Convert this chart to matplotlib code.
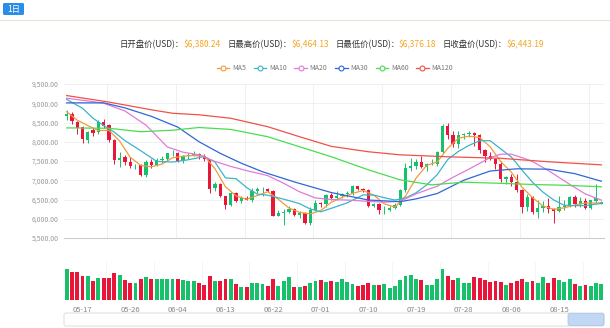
import numpy as np
import pandas as pd
import matplotlib
matplotlib.use("Agg")
import matplotlib.pyplot as plt
from matplotlib.lines import Line2D
from matplotlib.patches import FancyBboxPatch
from matplotlib.ticker import FuncFormatter

plt.rcParams['font.family'] = ['Noto Sans CJK SC', 'DejaVu Sans']

# ---- data ----
dates = pd.date_range("2018-05-14", "2018-08-23").strftime("%m-%d").tolist()

opens = [8680, 8720, 8510, 8380, 8050, 8300, 8250, 8520, 8430, 8050,
         7530, 7600, 7480, 7360, 7400, 7130, 7480, 7400, 7530, 7560,
         7700, 7720, 7510, 7640, 7660, 7680, 7620, 7540, 6790, 6900,
         6580, 6350, 6680, 6460, 6540, 6500, 6730, 6770, 6780, 6730,
         6080, 6160, 6170, 6250, 6090, 6160, 5900, 6220, 6400, 6380,
         6620, 6530, 6600, 6640, 6670, 6850, 6770, 6740, 6330, 6390,
         6230, 6240, 6280, 6360, 6740, 7320, 7380, 7470, 7350, 7410,
         7420, 7730, 8420, 8180, 7950, 8180, 8200, 8220, 8170, 7780,
         7620, 7560, 7430, 7030, 7080, 6950, 6750, 6300, 6560, 6180,
         6290, 6320, 6260, 6190, 6300, 6340, 6570, 6390, 6470, 6270,
         6470, 6380.24]
closes = [8720, 8530, 8370, 8080, 8260, 8230, 8520, 8420, 8050, 7530,
          7580, 7470, 7360, 7380, 7130, 7480, 7400, 7530, 7560, 7700,
          7720, 7510, 7640, 7660, 7680, 7620, 7540, 6780, 6900, 6580,
          6350, 6680, 6460, 6540, 6500, 6730, 6770, 6780, 6730, 6080,
          6160, 6170, 6250, 6090, 6160, 5900, 6220, 6400, 6380, 6620,
          6530, 6600, 6640, 6670, 6850, 6770, 6740, 6330, 6390, 6230,
          6240, 6280, 6360, 6740, 7320, 7380, 7470, 7350, 7410, 7420,
          7730, 8420, 8180, 7950, 8180, 8200, 8220, 8170, 7780, 7620,
          7560, 7430, 7030, 7080, 6950, 6750, 6300, 6560, 6180, 6290,
          6320, 6260, 6190, 6300, 6340, 6570, 6390, 6470, 6270, 6480,
          6530, 6443.19]
highs = [8820, 8760, 8530, 8400, 8290, 8350, 8560, 8580, 8450, 8060,
         7740, 7650, 7600, 7420, 7420, 7530, 7560, 7580, 7620, 7720,
         7780, 7740, 7660, 7700, 7760, 7700, 7680, 7540, 6960, 6920,
         6600, 6700, 6690, 6590, 6580, 6800, 6820, 6820, 6800, 6740,
         6240, 6250, 6330, 6280, 6190, 6170, 6300, 6480, 6430, 6650,
         6680, 6730, 6680, 6720, 6880, 6860, 6800, 6760, 6410, 6400,
         6340, 6320, 6400, 6760, 7450, 7570, 7540, 7620, 7440, 7560,
         7760, 8460, 8490, 8290, 8270, 8230, 8290, 8260, 8190, 7800,
         7730, 7570, 7500, 7110, 7160, 7150, 6760, 6640, 6580, 6480,
         6470, 6540, 6270, 6600, 6480, 6600, 6610, 6560, 6530, 6500,
         6890, 6464.13]
lows = [8560, 8450, 8200, 7980, 7960, 8150, 8200, 8350, 8000, 7430,
        7350, 7400, 7330, 7280, 7100, 7080, 7330, 7360, 7450, 7500,
        7640, 7480, 7460, 7550, 7640, 7560, 7510, 6660, 6720, 6560,
        6260, 6330, 6440, 6420, 6480, 6440, 6680, 6600, 6700, 6060,
        6070, 5830, 6150, 6070, 6030, 5860, 5830, 6210, 6300, 6300,
        6500, 6480, 6550, 6560, 6620, 6740, 6690, 6300, 6300, 6120,
        6130, 6200, 6260, 6340, 6700, 7250, 7290, 7320, 7230, 7390,
        7380, 7700, 8080, 7860, 7830, 8080, 8120, 7880, 7700, 7480,
        7520, 7300, 6960, 6890, 6860, 6700, 6140, 6200, 6130, 6030,
        6170, 6160, 5880, 6180, 6230, 6300, 6310, 6300, 6260, 6250,
        6400, 6376.18]
volumes = [31, 28, 28, 24, 24, 19, 22, 22, 22, 27,
           25, 20, 17, 17, 21, 23, 21, 21, 21, 21,
           21, 21, 20, 19, 19, 17, 15, 24, 19, 19,
           21, 21, 16, 13, 13, 17, 17, 16, 14, 21,
           14, 19, 23, 13, 13, 14, 17, 19, 20, 18,
           19, 18, 21, 18, 16, 14, 15, 17, 15, 15,
           16, 12, 14, 20, 24, 25, 21, 20, 15, 15,
           21, 31, 24, 20, 22, 17, 17, 23, 22, 20,
           18, 19, 18, 15, 17, 19, 21, 18, 19, 17,
           23, 17, 22, 20, 18, 21, 16, 14, 15, 14,
           17, 16]

ma5_idx = [0, 2, 4, 6, 8, 10, 12, 14, 16, 18, 20, 22, 24, 26, 28, 30, 32, 34,
           36, 38, 40, 42, 44, 46, 48, 50, 52, 54, 56, 58, 60, 62, 64, 66, 68,
           70, 72, 74, 76, 78, 80, 82, 84, 86, 88, 90, 92, 94, 96, 98, 100, 101]
ma5_val = [8780, 8560, 8420, 8292, 8296, 8020, 7598, 7384, 7350, 7420, 7582,
           7626, 7642, 7628, 7304, 6830, 6594, 6506, 6600, 6702, 6504, 6278,
           6166, 6124, 6212, 6430, 6554, 6658, 6734, 6616, 6386, 6300, 6588,
           7054, 7386, 7476, 7832, 8092, 8146, 8110, 7870, 7484, 7210, 6822,
           6548, 6330, 6248, 6282, 6358, 6408, 6410, 6410]
ma10_idx = [0, 3, 5, 7, 9, 11, 14, 17, 20, 23, 26, 28, 30, 32, 34, 36, 38, 40,
            42, 44, 46, 48, 50, 53, 56, 58, 60, 62, 64, 66, 68, 70, 72, 74, 76,
            78, 80, 82, 84, 86, 88, 90, 92, 94, 96, 98, 100, 101]
ma10_val = [9100, 8870, 8610, 8420, 8250, 8030, 7767, 7491, 7473, 7533, 7616,
            7475, 7060, 7040, 6810, 6640, 6612, 6543, 6471, 6392, 6254, 6181,
            6272, 6412, 6620, 6614, 6546, 6486, 6540, 6674, 6878, 7146, 7542,
            7749, 7906, 8025, 8028, 7814, 7604, 7267, 6946, 6689, 6488, 6349,
            6340, 6340, 6380, 6398]
ma20_idx = [0, 4, 7, 11, 15, 17, 19, 22, 25, 28, 31, 34, 38, 41, 44, 47, 50,
            54, 57, 60, 63, 66, 70, 73, 76, 80, 82, 84, 86, 88, 91, 95, 98, 101]
ma20_val = [9130, 9060, 9000, 8800, 8430, 8150, 7865, 7728, 7660, 7490, 7360,
            7250, 7120, 6920, 6700, 6540, 6500, 6480, 6450, 6430, 6453, 6647,
            6846, 7078, 7290, 7587, 7678, 7677, 7587, 7486, 7251, 6895, 6643,
            6485]
ma30_idx = [0, 7, 11, 16, 21, 25, 29, 33, 37, 43, 50, 57, 63, 66, 70, 75, 80,
            85, 91, 96, 101]
ma30_val = [9010, 9010, 8880, 8660, 8380, 8000, 7700, 7442, 7220, 6957, 6680,
            6486, 6444, 6516, 6655, 7000, 7240, 7297, 7287, 7171, 6975]
ma60_idx = [0, 8, 14, 20, 25, 31, 38, 44, 50, 57, 63, 69, 75, 82, 88, 94, 101]
ma60_val = [8360, 8350, 8260, 8300, 8370, 8320, 8130, 7870, 7610, 7270, 7010,
            6880, 6950, 6920, 6890, 6870, 6830]
ma120_idx = [0, 8, 16, 20, 25, 31, 38, 44, 50, 57, 63, 72, 82, 91, 101]
ma120_val = [9200, 9030, 8830, 8740, 8700, 8610, 8390, 8130, 7880, 7740, 7660,
             7610, 7570, 7480, 7400]

ma_names = ["MA5", "MA10", "MA20", "MA30", "MA60", "MA120"]
ma_colors = ["#f39a3b", "#3db3c9", "#e27ad9", "#2f67d8", "#4cdc52", "#ef5248"]
ma_data = [(ma5_idx, ma5_val), (ma10_idx, ma10_val), (ma20_idx, ma20_val),
           (ma30_idx, ma30_val), (ma60_idx, ma60_val), (ma120_idx, ma120_val)]

header_labels = ["日开盘价(USD)：", "日最高价(USD)：", "日最低价(USD)：", "日收盘价(USD)："]
header_values = ["$6,380.24", "$6,464.13", "$6,376.18", "$6,443.19"]

UP = "#17c06b"
DOWN = "#e8173a"

W, H = 610, 328
fig = plt.figure(figsize=(W / 100, H / 100), dpi=100)
fig.patch.set_facecolor("white")


def box(x0, y0, x1, y1):
    return [x0 / W, 1 - y1 / H, (x1 - x0) / W, (y1 - y0) / H]


# overlay in pixel coords for header, button, slider
ov = fig.add_axes([0, 0, 1, 1])
ov.set_xlim(0, W)
ov.set_ylim(H, 0)
ov.axis("off")

ov.add_patch(FancyBboxPatch((3, 3), 21, 12, boxstyle="round,pad=0,rounding_size=1.5",
                            fc="#2a8ee8", ec="none"))
ov.text(13.5, 9.2, "1日", color="white", fontsize=6, ha="center", va="center")
ov.plot([0, W], [19.5, 19.5], color="#e8e4da", lw=0.8)

lab_x = [120, 228, 336, 443]
val_x = [183, 291, 398, 506]
for lx, vx, lab, val in zip(lab_x, val_x, header_labels, header_values):
    ov.text(lx, 45, lab, color="#333333", fontsize=6, va="center")
    ov.text(vx, 45, val, color="#f5a623", fontsize=6, va="center")

# slider
ov.add_patch(FancyBboxPatch((64, 313), 540, 13, boxstyle="round,pad=0,rounding_size=2",
                            fc="none", ec="#dddddd", lw=0.7))
ov.add_patch(FancyBboxPatch((568, 313.5), 36, 12, boxstyle="round,pad=0,rounding_size=2",
                            fc="#bcd3f2", ec="#a8c4ec", lw=0.6, alpha=0.9))

# ---- main candle panel ----
ax = fig.add_axes(box(64, 84, 604, 238))
x = np.arange(len(dates))
o = np.array(opens)
c = np.array(closes)
hi = np.array(highs)
lo = np.array(lows)
col = np.where(c >= o, UP, DOWN)

for gx in np.arange(7.6, len(dates), 13):
    ax.axvline(gx, color="#eeeeee", lw=0.6, zorder=0)

ax.vlines(x, lo, hi, colors=col, lw=0.7, zorder=2)
ax.bar(x, np.maximum(np.abs(c - o), 10), bottom=np.minimum(o, c), width=0.62,
       color=col, lw=0, zorder=3)

for (idx, val), name, color in zip(ma_data, ma_names, ma_colors):
    ax.plot(idx, val, color=color, lw=0.9, zorder=4)

ax.set_xlim(-0.5, len(dates) - 0.5)
ax.set_ylim(5500, 9500)
ax.set_yticks(np.arange(5500, 9501, 500))
ax.yaxis.set_major_formatter(FuncFormatter(lambda v, p: f"{v:,.2f}"))
ax.set_xticks([])
ax.grid(axis="y", color="#eeeeee", lw=0.6)
ax.set_axisbelow(True)
for s in ["top", "right", "left"]:
    ax.spines[s].set_visible(False)
ax.spines["bottom"].set_color("#cccccc")
ax.spines["bottom"].set_linewidth(0.8)
ax.tick_params(axis="y", length=0, labelsize=5, labelcolor="#999999", pad=4)

handles = [Line2D([], [], color=cl, lw=0.9, marker="o", markersize=3.5,
                  markerfacecolor="white", markeredgewidth=0.8) for cl in ma_colors]
fig.legend(handles, ma_names, loc="center", bbox_to_anchor=(335 / W, 1 - 68 / H),
           ncol=6, frameon=False, fontsize=5, handlelength=1.8, handletextpad=0.4,
           columnspacing=1.1, labelcolor="#777777")

# ---- volume panel ----
axv = fig.add_axes(box(64, 262, 604, 300))
for gx in np.arange(7.5, len(dates), 9):
    axv.axvline(gx, color="#f2f2f2", lw=0.6, zorder=0)
axv.bar(x, volumes, width=0.74, color=col, lw=0)
axv.set_xlim(-0.5, len(dates) - 0.5)
axv.set_ylim(0, 38)
tick_pos = list(range(3, len(dates), 9))
axv.set_xticks(tick_pos)
axv.set_xticklabels([dates[i] for i in tick_pos])
axv.set_yticks([])
for s in axv.spines.values():
    s.set_visible(False)
axv.tick_params(axis="x", length=0, labelsize=5.5, labelcolor="#888888", pad=4)

fig.savefig("out.png", dpi=100)
